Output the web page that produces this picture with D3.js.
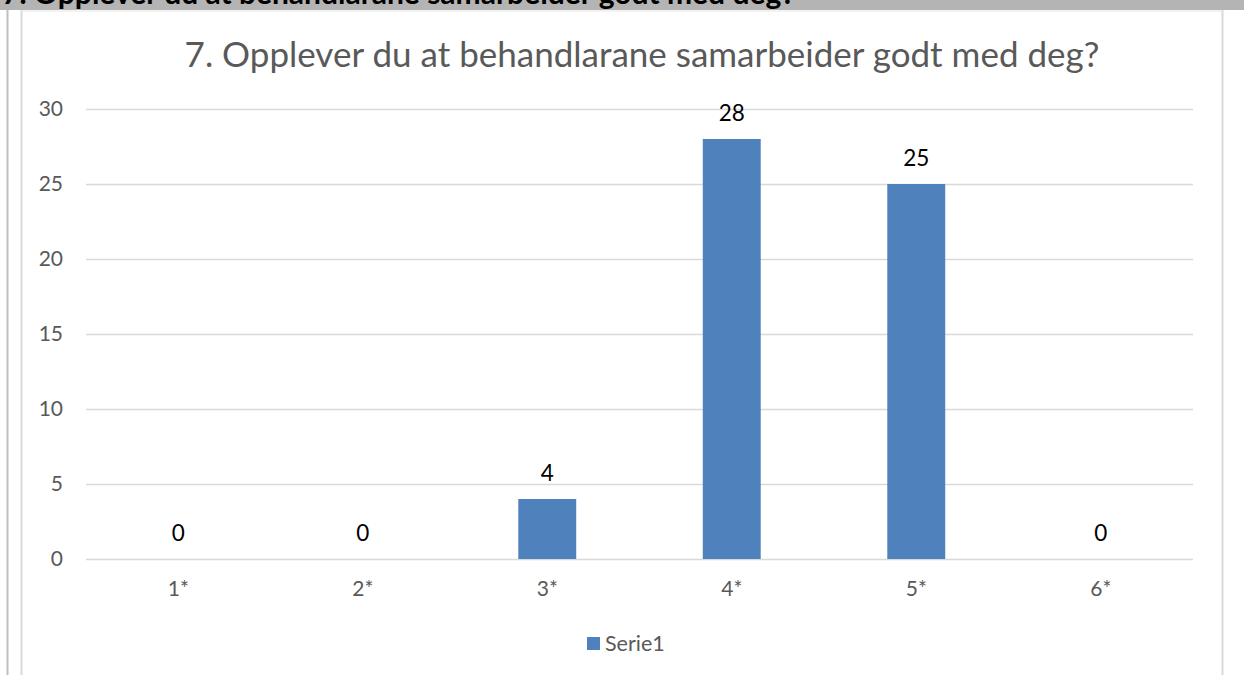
<!DOCTYPE html>
<html>
<head>
<meta charset="utf-8">
<script src="https://cdn.jsdelivr.net/npm/d3@7"></script>
<style>
  body { margin: 0; background: #fff; }
  svg { display: block; font-family: Lato, "Open Sans", sans-serif; }
</style>
</head>
<body>
<svg width="1244" height="675"></svg>
<script>
const categories = ["1*", "2*", "3*", "4*", "5*", "6*"];
const values = [0, 0, 4, 28, 25, 0];
const yTicks = [0, 5, 10, 15, 20, 25, 30];
const seriesName = "Serie1";
const chartTitle = "7. Opplever du at behandlarane samarbeider godt med deg?";

const svg = d3.select("svg"),
	width = +svg.attr("width"),
	height = +svg.attr("height");

// grey heading band of the page, cut at the top
svg.append("rect")
	.attr("x", 0).attr("y", 0)
	.attr("width", width).attr("height", 10)
	.attr("fill", "#b4b4b4");
svg.append("text")
	.attr("x", 2).attr("y", 4)
	.attr("font-weight", "bold")
	.attr("font-size", 30)
	.attr("fill", "#000")
	.text(chartTitle);

// frame lines
svg.append("line").attr("x1", 7.5).attr("x2", 7.5).attr("y1", 10).attr("y2", height)
	.attr("stroke", "#bfbfbf").attr("stroke-width", 2);
svg.append("line").attr("x1", 21.5).attr("x2", 21.5).attr("y1", 10).attr("y2", height)
	.attr("stroke", "#d9d9d9").attr("stroke-width", 2);
svg.append("line").attr("x1", 1222.5).attr("x2", 1222.5).attr("y1", 10).attr("y2", height)
	.attr("stroke", "#d9d9d9").attr("stroke-width", 2);
svg.append("line").attr("x1", 21).attr("x2", 1223).attr("y1", 11).attr("y2", 11)
	.attr("stroke", "#e6e6e6").attr("stroke-width", 1);

const x = d3.scaleBand()
	.domain(categories)
	.range([86, 1193])
	.paddingInner(0.686)
	.paddingOuter(0.343);

const y = d3.scaleLinear()
	.domain([0, 30])
	.range([559, 109]);

// title
svg.append("text")
	.attr("x", 642)
	.attr("y", 67)
	.attr("text-anchor", "middle")
	.attr("font-size", 35)
	.attr("fill", "#595959")
	.text(chartTitle);

// gridlines + y labels
const yAxis = svg.append("g")
	.attr("transform", "translate(86,0)")
	.call(d3.axisLeft(y).tickValues(yTicks).tickSize(-(1193 - 86)).tickPadding(23));
yAxis.select(".domain").remove();
yAxis.selectAll(".tick line").attr("stroke", "#d9d9d9").attr("stroke-width", 1.5);
yAxis.selectAll(".tick text")
	.attr("font-family", "Lato, sans-serif")
	.attr("font-size", 21)
	.attr("fill", "#595959");

// x labels
const xAxis = svg.append("g")
	.attr("transform", "translate(0,559)")
	.call(d3.axisBottom(x).tickSize(0).tickPadding(0));
xAxis.select(".domain").remove();
xAxis.selectAll(".tick text")
	.attr("font-family", "Lato, sans-serif")
	.attr("font-size", 21)
	.attr("fill", "#595959")
	.attr("dy", 37);

// bars
svg.append("g").selectAll("rect")
	.data(values)
	.enter().append("rect")
	.attr("x", function(d, i) { return x(categories[i]); })
	.attr("y", function(d) { return y(d); })
	.attr("width", x.bandwidth())
	.attr("height", function(d) { return y(0) - y(d); })
	.attr("fill", "#4f81bd");

// data labels
svg.append("g").selectAll("text")
	.data(values)
	.enter().append("text")
	.attr("x", function(d, i) { return x(categories[i]) + x.bandwidth() / 2; })
	.attr("y", function(d) { return y(d) - 18; })
	.attr("text-anchor", "middle")
	.attr("font-size", 22.5)
	.attr("fill", "#000")
	.text(function(d) { return d; });

// legend
const legend = svg.append("g");
legend.append("rect")
	.attr("x", 587).attr("y", 637)
	.attr("width", 13).attr("height", 13)
	.attr("fill", "#4f81bd");
legend.append("text")
	.attr("x", 605).attr("y", 651)
	.attr("font-size", 21.5)
	.attr("fill", "#595959")
	.text(seriesName);
</script>
</body>
</html>
